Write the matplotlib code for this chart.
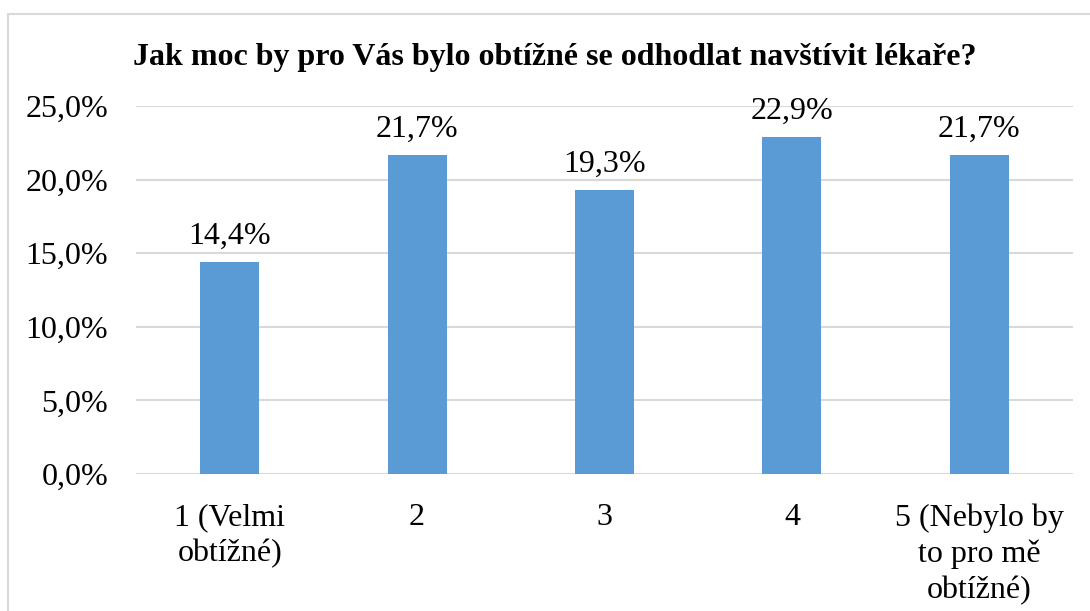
import matplotlib
matplotlib.use("Agg")
import matplotlib.pyplot as plt
from matplotlib.patches import Rectangle
import numpy as np

# data
categories = ["1 (Velmi\nobtížné)", "2", "3", "4", "5 (Nebylo by\nto pro mě\nobtížné)"]
values = [14.4, 21.7, 19.3, 22.9, 21.7]
title = "Jak moc by pro Vás bylo obtížné se odhodlat navštívit lékaře?"

plt.rcParams['font.family'] = ['Liberation Serif', 'DejaVu Serif']

W, H = 1090, 611
fig = plt.figure(figsize=(W / 100, H / 100), dpi=100)

# light grey frame around the chart (cut at right/bottom)
fig.patches.append(Rectangle((8 / W, -0.1), 1.2, (H - 14) / H + 0.1,
                             transform=fig.transFigure, fill=False,
                             edgecolor='#d9d9d9', linewidth=1.5))

# plot area in pixels
x0, x1 = 136, 1073
y0, y1 = 474, 106
ax = fig.add_axes([x0 / W, 1 - y0 / H, (x1 - x0) / W, (y0 - y1) / H])

x = np.arange(len(categories))
bars = ax.bar(x, values, width=0.315, color='#5b9bd5', zorder=3)

ax.set_xlim(-0.5, len(categories) - 0.5)
ax.set_ylim(0, 25)
ax.set_yticks(np.arange(0, 26, 5))
ax.set_yticklabels([f"{v:.1f}%".replace('.', ',') for v in np.arange(0, 26, 5)])
ax.yaxis.grid(True, color='#d9d9d9', linewidth=1.5, zorder=0)
ax.set_xticks(x)
ax.set_xticklabels(categories, linespacing=1.3)

for s in ax.spines.values():
    s.set_visible(False)
ax.tick_params(axis='both', length=0, labelsize=23, colors='black')
ax.tick_params(axis='y', pad=20)
ax.tick_params(axis='x', pad=21)

for rect, v in zip(bars, values):
    ax.annotate(f"{v:.1f}%".replace('.', ','),
                xy=(rect.get_x() + rect.get_width() / 2, rect.get_height()),
                xytext=(0, 8), textcoords="offset points",
                ha='center', va='bottom', fontsize=23)

fig.text(555 / W, 1 - 57 / H, title, ha='center', va='center',
         fontsize=23, fontweight='bold')

fig.savefig("out.png", dpi=100)
